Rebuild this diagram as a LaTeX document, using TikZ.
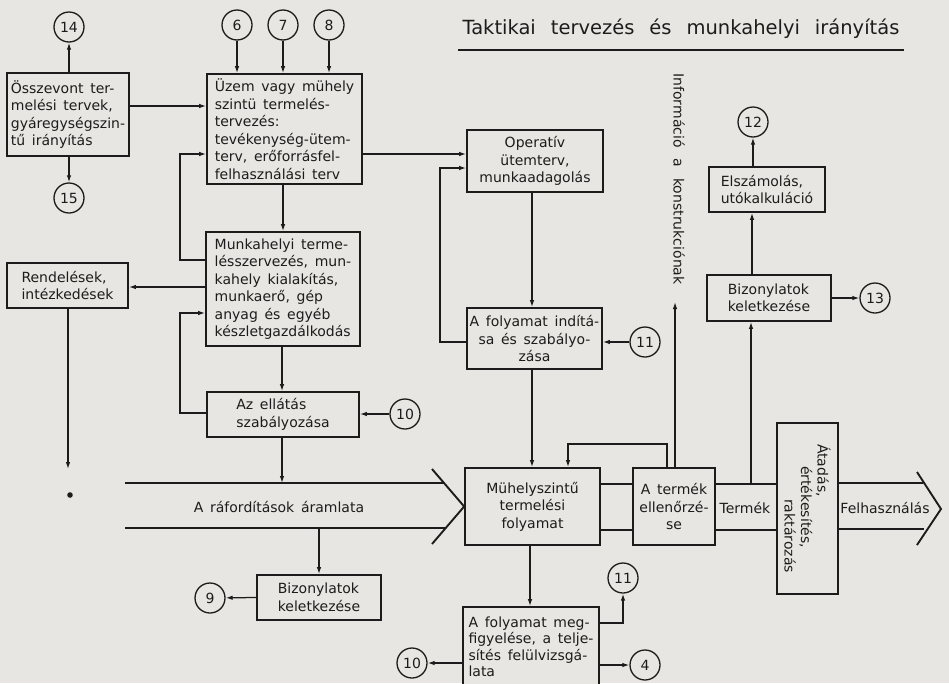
\documentclass[tikz,border=0pt]{standalone}
\usepackage{fontspec}
\setmainfont{DejaVu Sans}[WordSpace=1.5]
\usetikzlibrary{arrows.meta,calc}
\definecolor{paper}{RGB}{232,230,226}
\definecolor{ink}{RGB}{28,28,28}
\begin{document}
\begin{tikzpicture}[x=1pt,y=-1pt,
  every node/.style={font=\fontsize{14}{17.5}\selectfont,text=ink},
  box/.style={draw=ink,line width=1.7pt,fill=paper,inner xsep=2.5pt,inner ysep=3pt,align=left},
  cbox/.style={box,align=center},
  num/.style={circle,draw=ink,line width=1.3pt,minimum size=30pt,inner sep=0pt,fill=paper},
  arr/.style={draw=ink,line width=1.25pt,-{Latex[length=7pt,width=4.5pt]}},
  band/.style={draw=ink,line width=1.9pt},
  plain/.style={inner sep=0pt}
]
\fill[paper] (0,0) rectangle (949,683);
\useasboundingbox (0,0) rectangle (949,683);

% title
\node[plain,inner xsep=4pt,font=\fontsize{19.5}{24}\selectfont] (title) at (681,29) {Taktikai\hspace{15pt}tervezés\hspace{15pt}és\hspace{15pt}munkahelyi\hspace{15pt}irányítás};
\draw[line width=1.9pt,draw=ink] (title.west |- 0,50) -- (title.east |- 0,50);

% circles
\node[num] (c14) at (69,27) {14};
\node[num] (c15) at (69,198) {15};
\node[num] (c6) at (237,25) {6};
\node[num] (c7) at (283,25) {7};
\node[num] (c8) at (329,25) {8};
\node[num] (c10a) at (405,414) {10};
\node[num] (c11a) at (645,342) {11};
\node[num] (c12) at (753,122) {12};
\node[num] (c13) at (875,298) {13};
\node[num] (c9) at (210,598) {9};
\node[num] (c11b) at (623,578) {11};
\node[num] (c4) at (645,665) {4};
\node[num] (c10b) at (412,663) {10};

% boxes
\node[box,minimum width=122pt,minimum height=83pt] (osz) at (68,114.5) {Összevont ter-\\melési tervek,\\gyáregységszin-\\tű irányítás};
\node[box,minimum width=155pt,minimum height=110pt] (uzem) at (284.5,129) {Üzem vagy mühely\\szintü termelés-\\tervezés:\\tevékenység-ütem-\\terv, erőforrásfel-\\felhasználási terv};
\node[cbox,minimum width=136pt,minimum height=62pt] (oper) at (535,161) {Operatív\\ütemterv,\\munkaadagolás};
\node[box,minimum width=154pt,minimum height=114pt] (munk) at (283,289) {Munkahelyi terme-\\lésszervezés, mun-\\kahely kialakítás,\\munkaerő, gép\\anyag és egyéb\\készletgazdálkodás};
\node[box,minimum width=121pt,minimum height=45pt] (rend) at (67.5,285.5) {Rendelések,\\intézkedések};
\node[box,minimum width=152pt,minimum height=45pt] (ell) at (283,414.5) {Az ellátás\\szabályozása};
\node[cbox,minimum width=135pt,minimum height=61pt] (indit) at (534.5,338.5) {A folyamat indítá-\\sa és szabályo-\\zása};
\node[cbox,minimum width=135pt,minimum height=77pt] (muhely) at (532.5,506.5) {Mühelyszintű\\termelési\\folyamat};
\node[cbox,minimum width=82pt,minimum height=77pt] (term) at (674,506.5) {A termék\\ellenőrzé-\\se};
\node[box,minimum width=61pt,minimum height=171pt] (atad) at (807.5,508.5) {};
\node[plain,rotate=-90,align=left,font=\fontsize{14}{16.5}\selectfont] (atadtxt) at (atad.center) {Átadás,\\\hspace*{22pt}értékesítés,\\\hspace*{55pt}raktározás};
\node[box,minimum width=124pt,minimum height=46pt] (biz13) at (769,298) {Bizonylatok\\keletkezése};
\node[box,minimum width=116pt,minimum height=45pt] (elsz) at (767,189.5) {Elszámolás,\\utókalkuláció};
\node[box,minimum width=124pt,minimum height=45pt] (biz9) at (319,597.5) {Bizonylatok\\keletkezése};
\node[box,minimum width=136pt,minimum height=80pt,font=\fontsize{14}{16.5}\selectfont] (megf) at (531,647) {A folyamat meg-\\figyelése, a telje-\\sítés felülvizsgá-\\lata};

% flow bands
\coordinate (bL) at (125,483);
\coordinate (bLb) at (125,528);
\draw[band] (bL) -- (444,483);
\draw[band] (bLb) -- (445,528);
\draw[band] (432,469) -- (muhely.west) -- (432,544);
\node[plain] (raf) at (279,507) {A ráfordítások áramlata};
\draw[band] (muhely.east |- 0,484) -- (term.west |- 0,484);
\draw[band] (muhely.east |- 0,530) -- (term.west |- 0,530);
\draw[band] (term.east |- 0,484) -- (atad.west |- 0,484);
\draw[band] (term.east |- 0,530) -- (atad.west |- 0,530);
\node[plain] (termek) at (745,508) {Termék};
\draw[band] (atad.east |- 0,483) -- (923,483);
\draw[band] (atad.east |- 0,529) -- (924,529);
\draw[band] (917,472) -- (941,509) -- (917,545);
\node[plain] (felh) at (885,508) {Felhasználás};

% connectors
\draw[arr] (osz.north -| c14) -- (c14);
\draw[arr] (osz.south -| c15) -- (c15);
\draw[arr] (osz.east |- 0,106) -- (uzem.west |- 0,106);
\draw[arr] (c6) -- (c6 |- uzem.north);
\draw[arr] (c7) -- (c7 |- uzem.north);
\draw[arr] (c8) -- (c8 |- uzem.north);
\draw[arr] (munk.west |- 0,260) -| (180,154) -- (uzem.west |- 0,154);
\draw[arr] (uzem.east |- 0,154) -- (oper.west |- 0,154);
\draw[arr] (uzem.south -| 283,0) -- (munk.north -| 283,0);
\draw[arr] (munk.west |- 0,287) -- (rend.east |- 0,287);
\draw[arr] (ell.west |- 0,413) -| (180,313) -- (munk.west |- 0,313);
\draw[arr] (munk.south -| 282,0) -- (ell.north -| 282,0);
\draw[arr] (c10a) -- (ell.east |- c10a);
\coordinate (bandin) at (282,483);
\draw[arr] (ell.south -| bandin) -- (bandin);
\draw[arr] (319,528) -- (biz9.north -| 319,0);
\draw[arr] (biz9.west) -- (c9);
\coordinate (rendend) at (68,469);
\draw[arr] (rend.south -| rendend) -- (rendend);
\fill[ink] (70,495) circle (2.8pt);
\draw[arr] (oper.south -| 532,0) -- (indit.north -| 532,0);
\draw[arr] (indit.west |- 0,342) -| (440,168) -- (oper.west |- 0,168);
\draw[arr] (c11a) -- (indit.east |- c11a);
\draw[arr] (indit.south -| 532,0) -- (muhely.north -| 532,0);
\draw[arr] (term.north -| 667,0) |- (568,444) -- (muhely.north -| 568,0);
\coordinate (infoend) at (675,302);
\draw[arr] (term.north -| infoend) -- (infoend);
\node[plain,rotate=-90] (info) at (679,179) {Információ\hspace{11pt}a\hspace{11pt}konstrukciónak};
\coordinate (bandtermek) at (751,484);
\draw[arr] (bandtermek) -- (biz13.south -| bandtermek);
\draw[arr] (biz13.east) -- (c13);
\draw[arr] (biz13.north -| 752,0) -- (elsz.south -| 752,0);
\draw[arr] (elsz.north -| c12) -- (c12);
\draw[arr] (muhely.south -| 530,0) -- (megf.north -| 530,0);
\draw[arr] (megf.east |- 0,623) -| (c11b.south);
\draw[arr] (megf.east |- 0,665) -- (c4);
\draw[arr] (megf.west |- 0,663) -- (c10b);
\end{tikzpicture}
\end{document}
